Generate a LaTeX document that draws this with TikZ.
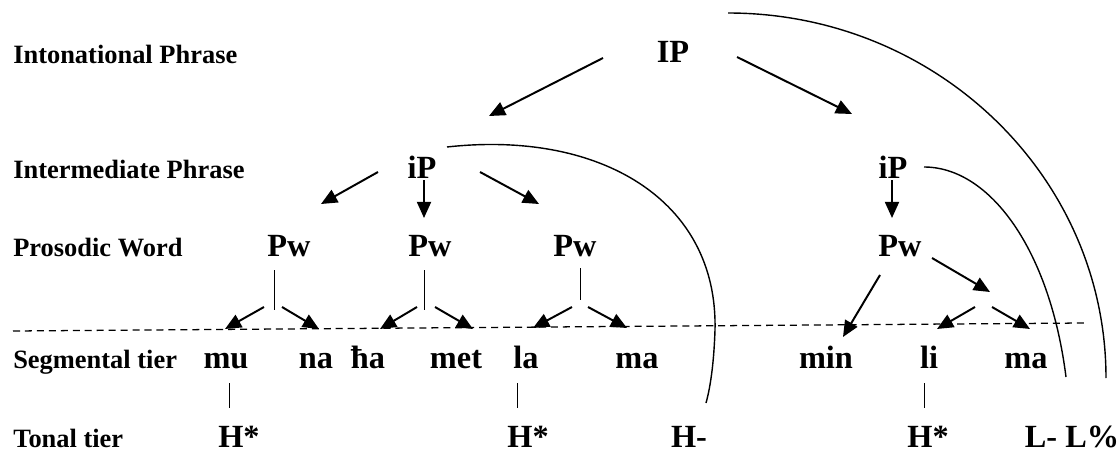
\documentclass[tikz,border=0pt]{standalone}
\usepackage{fontspec}
\setmainfont{Liberation Serif}
\usetikzlibrary{arrows.meta}

\begin{document}
\begin{tikzpicture}[
    x=0.025cm, y=-0.025cm,
    tier/.style={anchor=base west, inner sep=0pt, font=\fontsize{18.8}{20}\selectfont\bfseries},
    unit/.style={anchor=base, font=\fontsize{23}{26}\selectfont\bfseries},
    arrow/.style={-{Triangle[length=11.5pt, width=10pt]}, line width=1.4pt},
    tie/.style={line width=0.7pt},
    bound/.style={line width=1pt}
]
    \useasboundingbox (0,0) rectangle (1120,453);

    % Tier names
    \node[tier] (tIP) at (13,64) {Intonational Phrase};
    \node[tier] (tiP) at (13,179) {Intermediate Phrase};
    \node[tier] (tPw) at (13,256) {Prosodic Word};
    \node[tier] (tSeg) at (13,368) {Segmental tier};
    \node[tier] (tTone) at (13,447) {Tonal tier};

    % Phrases and words
    \node[unit] (IP) at (673,63) {IP};
    \node[unit] (iPa) at (422,178) {iP};
    \node[unit] (iPb) at (893,178) {iP};
    \node[unit] (Pwa) at (289,256) {Pw};
    \node[unit] (Pwb) at (430,256) {Pw};
    \node[unit] (Pwc) at (575,256) {Pw};
    \node[unit] (Pwd) at (900,256) {Pw};
    \coordinate (foot) at (983,300);

    % Syllables
    \node[unit] (mu) at (226,368) {mu};
    \node[unit] (na) at (316,368) {na};
    \node[unit] (ha) at (368,368) {ħa};
    \node[unit] (met) at (456,368) {met};
    \node[unit] (la) at (526,368) {la};
    \node[unit] (maA) at (637,368) {ma};
    \node[unit] (min) at (826,368) {min};
    \node[unit] (li) at (929,368) {li};
    \node[unit] (maB) at (1026,368) {ma};

    % Tones
    \node[unit] (Ha) at (239,447) {H*};
    \node[unit] (Hb) at (528,447) {H*};
    \node[unit] (Hm) at (689,447) {H-};
    \node[unit] (Hc) at (928,447) {H*};
    \node[unit] (LL) at (1072,447) {L- L\%};

    % Segment line
    \coordinate (dashL) at (13,331);
    \coordinate (dashR) at (1085,323);
    \draw[dashed, dash pattern=on 5pt off 3.5pt, line width=0.9pt] (dashL) -- (dashR);

    % IP to iP
    \draw[arrow] ([shift={(-70,-5)}]IP.base) -- ([shift={(67,-62)}]iPa.base);
    \draw[arrow] ([shift={(64,-6)}]IP.base) -- ([shift={(-41,-64)}]iPb.base);

    % iP to Pw
    \draw[arrow] ([shift={(-44,-6)}]iPa.base) -- ([shift={(32,-52)}]Pwa.base);
    \draw[arrow] ([shift={(2,2)}]iPa.base) -- ([shift={(-6,-38)}]Pwb.base);
    \draw[arrow] ([shift={(58,-6)}]iPa.base) -- ([shift={(-36,-52)}]Pwc.base);
    \draw[arrow] ([shift={(-1,2)}]iPb.base) -- ([shift={(-8,-38)}]Pwd.base);

    % Pw to syllables
    \draw[tie] ([shift={(-15,14)}]Pwa.base) -- ([shift={(-15,54)}]Pwa.base);
    \draw[arrow] ([shift={(-25,51)}]Pwa.base) -- ([shift={(-1,-39)}]mu.base);
    \draw[arrow] ([shift={(-7,51)}]Pwa.base) -- ([shift={(3,-39)}]na.base);
    \draw[tie] ([shift={(-6,14)}]Pwb.base) -- ([shift={(-6,54)}]Pwb.base);
    \draw[arrow] ([shift={(-13,51)}]Pwb.base) -- ([shift={(12,-39)}]ha.base);
    \draw[arrow] ([shift={(5,51)}]Pwb.base) -- ([shift={(17,-39)}]met.base);
    \draw[tie] ([shift={(5,12)}]Pwc.base) -- ([shift={(5,44)}]Pwc.base);
    \draw[arrow] ([shift={(-3,51)}]Pwc.base) -- ([shift={(7,-40)}]la.base);
    \draw[arrow] ([shift={(13,51)}]Pwc.base) -- ([shift={(-10,-40)}]maA.base);
    \draw[arrow] ([shift={(-20,19)}]Pwd.base) -- ([shift={(17,-31)}]min.base);
    \draw[arrow] ([shift={(32,2)}]Pwd.base) -- ([shift={(7,-8)}]foot);
    \draw[arrow] ([shift={(-8,7)}]foot) -- ([shift={(8,-39)}]li.base);
    \draw[arrow] ([shift={(9,7)}]foot) -- ([shift={(4,-39)}]maB.base);

    % Syllables to tones
    \draw[tie] ([shift={(3,15)}]mu.base) -- ([shift={(-10,-39)}]Ha.base);
    \draw[tie] ([shift={(-9,15)}]la.base) -- ([shift={(-11,-39)}]Hb.base);
    \draw[tie] ([shift={(-5,15)}]li.base) -- ([shift={(-4,-39)}]Hc.base);

    % Phrase boundaries
    \draw[bound] ([shift={(25,-31)}]iPa.base) .. controls (600,130) and (718,200) .. (715,330)
        .. controls (714,360) and (711,385) .. ([shift={(17,-44)}]Hm.base);
    \draw[bound] ([shift={(31,-11)}]iPb.base) .. controls (990,167) and (1050,250) .. ([shift={(-6,-70)}]LL.base);
    \draw[bound] ([shift={(55,-50)}]IP.base) .. controls (937,13) and (1106,177) .. ([shift={(34,-69)}]LL.base);

\end{tikzpicture}
\end{document}
